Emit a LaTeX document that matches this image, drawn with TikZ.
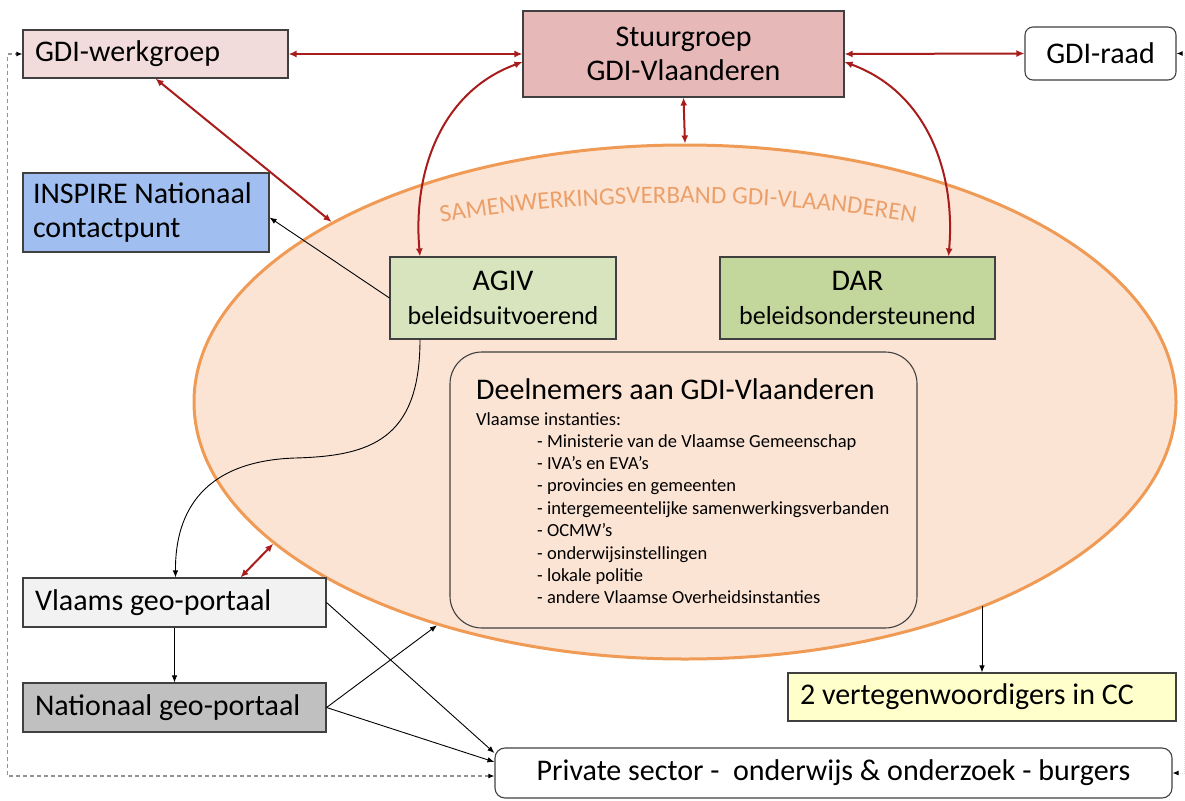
\documentclass[tikz,border=0pt]{standalone}
\usepackage{fontspec}
\setmainfont{Carlito}
\usetikzlibrary{arrows.meta,shapes.geometric,decorations.text}

\definecolor{kader}{RGB}{64,64,64}
\definecolor{werkvul}{RGB}{242,220,219}
\definecolor{stuurvul}{RGB}{230,184,183}
\definecolor{inspirevul}{RGB}{160,190,240}
\definecolor{agivvul}{RGB}{215,228,189}
\definecolor{darvul}{RGB}{195,214,155}
\definecolor{vlaamsvul}{RGB}{242,242,242}
\definecolor{natvul}{RGB}{192,192,192}
\definecolor{ccvul}{RGB}{255,255,204}
\definecolor{samenvul}{RGB}{252,228,213}
\definecolor{samenlijn}{RGB}{240,155,85}
\definecolor{samentekst}{RGB}{236,160,105}
\definecolor{roodpijl}{RGB}{168,28,28}

\newcommand{\groot}{\fontsize{30}{34}\selectfont}
\newcommand{\middel}{\fontsize{26}{30}\selectfont}
\newcommand{\klein}{\fontsize{18.5}{22.4}\selectfont}

\begin{document}
\begin{tikzpicture}[x=1pt, y=-1pt,
  box/.style={draw=kader, line width=1.1pt, font=\groot, inner sep=0pt, minimum height=48pt},
  linksbox/.style={box, align=flush left, inner xsep=10pt},
  rood/.style={draw=roodpijl, line width=2pt, arrows={Latex[length=8pt,width=7pt]-Latex[length=8pt,width=7pt]}},
  zwart/.style={draw=black, line width=0.9pt, arrows={-Latex[length=7pt,width=5.5pt]}},
  lijst/.style={font=\klein, inner sep=0pt}]

  \useasboundingbox (0,0) rectangle (1185,800);

  % samenwerkingsverband
  \node (samen) at (685,402) [ellipse, draw=samenlijn, fill=samenvul, line width=3pt,
    minimum width=982pt, minimum height=514pt, inner sep=0pt] {};
  \path [decorate, decoration={text along path, text align=center, text color=samentekst,
    text={|\fontsize{25}{30}\selectfont|SAMENWERKINGSVERBAND GDI-VLAANDEREN}}]
    (678,445) ++(232:600 and 242) arc [start angle=232, end angle=308, x radius=600, y radius=242];

  % boxes
  \node (werkgroep) at (155.5,54) [linksbox, inner xsep=12pt, fill=werkvul, text width=241pt] {GDI-werkgroep};
  \node (stuur) at (683.5,54) [box, fill=stuurvul, align=center, minimum width=321pt, minimum height=86pt] {Stuurgroep\\GDI-Vlaanderen};
  \node (raad) at (1100.5,53.5) [box, fill=white, rounded corners=8pt, minimum width=151pt, minimum height=53pt] {GDI-raad};
  \node (inspire) at (146,212.5) [linksbox, fill=inspirevul, text width=226pt, minimum height=79pt] {INSPIRE Nationaal\\contactpunt};
  \node (agiv) at (503,298) [box, fill=agivvul, align=center, minimum width=226pt, minimum height=82pt] {AGIV\\{\middel beleidsuitvoerend}};
  \node (dar) at (857.5,298) [box, fill=darvul, align=center, minimum width=275pt, minimum height=82pt] {DAR\\{\middel beleidsondersteunend}};
  \node (deelnemers) at (683.5,490) [draw=kader, line width=1.1pt, rounded corners=32pt, minimum width=467pt, minimum height=276pt] {};
  \node (vlaams) at (174.5,602.5) [linksbox, inner xsep=12pt, fill=vlaamsvul, text width=279pt, minimum height=49pt] {Vlaams geo-portaal};
  \node (nationaal) at (174.5,707.5) [linksbox, inner xsep=12pt, fill=natvul, text width=279pt, minimum height=49pt] {Nationaal geo-portaal};
  \node (cc) at (982,697) [linksbox, inner xsep=12pt, fill=ccvul, text width=364pt] {2 vertegenwoordigers in CC};
  \node (prive) at (833.5,773) [box, fill=white, rounded corners=10pt, minimum width=677pt, minimum height=50pt] {Private sector -\ \ onderwijs \& onderzoek - burgers};

  % deelnemers
  \node (titel) at (476,399) [anchor=base west, font=\groot, inner sep=0pt] {Deelnemers aan GDI-Vlaanderen};
  \node (instanties) at (476,425) [lijst, anchor=base west] {Vlaamse instanties:};
  \foreach \tekst [count=\i] in {Ministerie van de Vlaamse Gemeenschap, IVA’s en EVA’s,
    provincies en gemeenten, intergemeentelijke samenwerkingsverbanden, OCMW’s,
    onderwijsinstellingen, lokale politie, andere Vlaamse Overheidsinstanties}
    \node (item\i) at (537,424.6+22.4*\i) [lijst, anchor=base west] {- \tekst};

  % red connections
  \draw [rood] (werkgroep.east) -- (stuur.west);
  \draw [rood] (stuur.east) -- (raad.west);
  \draw [rood] (werkgroep.south) -- (samen.153.8);
  \draw [rood] (stuur.south) -- (samen.north);
  \draw [rood] ([yshift=-8pt]stuur.west) to [out=200, in=95] ([xshift=-83pt]agiv.north);
  \draw [rood] ([yshift=-8pt]stuur.east) to [out=-20, in=85] ([xshift=91pt]dar.north);
  \draw [rood] ([xshift=66pt]vlaams.north) -- (samen.-161);

  % black connections
  \draw [zwart] (agiv.west) -- ([yshift=-5pt]inspire.east);
  \draw [zwart] ([xshift=-83pt]agiv.south) .. controls (420,440) and (370,456) .. (295,458)
    .. controls (205,461) and (175,510) .. ([xshift=1pt]vlaams.north);
  \draw [zwart] (vlaams.south) -- (nationaal.north);
  \draw [zwart] (vlaams.east) -- ([yshift=20pt]prive.west);
  \draw [zwart] (nationaal.east) -- (samen.-138.9);
  \draw [zwart] (nationaal.east) -- ([yshift=11pt]prive.west);
  \draw [zwart] (cc.north |- samen.-34.2) -- (cc.north);

  % dashed and dotted returns
  \draw [draw=gray!85, line width=1.2pt, dash pattern=on 4pt off 3pt,
    arrows={Latex[length=6pt,width=5pt,color=black]-Latex[length=6pt,width=5pt,color=black]}]
    ([yshift=-3pt]prive.west) -- ++(-487,0) |- (werkgroep.west);
  \draw [draw=gray!25, line width=1pt, densely dotted,
    arrows={Latex[length=6pt,width=5pt,color=black]-Latex[length=6pt,width=5pt,color=black]}]
    (raad.east) -- ++(8,0) |- (prive.east);

\end{tikzpicture}
\end{document}
